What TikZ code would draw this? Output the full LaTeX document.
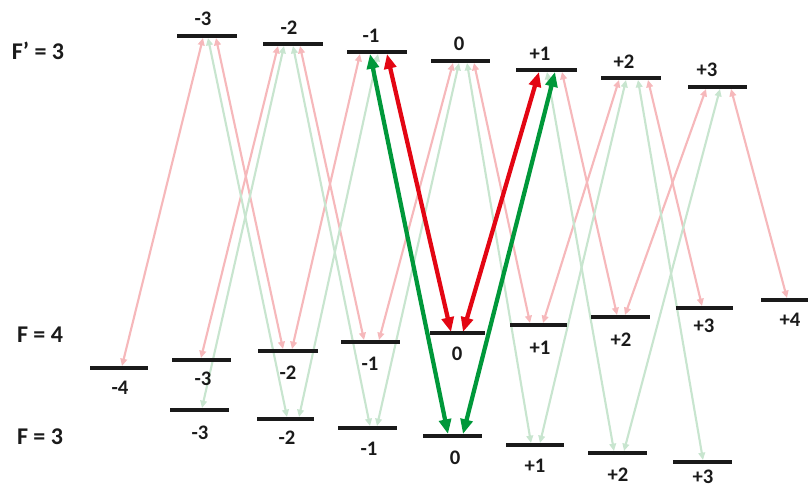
\documentclass[tikz,border=0pt]{standalone}
\usepackage{fontspec}
\setmainfont{Carlito}
\usetikzlibrary{arrows.meta}
\definecolor{redS}{RGB}{227,6,19}
\definecolor{greenS}{RGB}{0,152,58}
\definecolor{redF}{RGB}{246,184,187}
\definecolor{greenF}{RGB}{200,229,207}
\definecolor{ink}{RGB}{26,26,26}
\begin{document}
\begin{tikzpicture}[x=0.75pt,y=-0.75pt,
  bar/.style={draw=ink,line width=2.7pt},
  lvl/.style={font=\bfseries\fontsize{15.5}{18}\selectfont,text=ink,inner sep=0pt},
  flab/.style={font=\bfseries\fontsize{18}{21}\selectfont,text=ink,inner sep=0pt},
  thin/.style={line width=1.6pt,{Triangle[length=5.5pt,width=5pt]}-{Triangle[length=5.5pt,width=5pt]}},
  thick/.style={line width=3.2pt,{Triangle[length=11pt,width=9pt]}-{Triangle[length=11pt,width=9pt]}},
  faintR/.style={thin,draw=redF,fill=redF},
  faintG/.style={thin,draw=greenF,fill=greenF},
  boldR/.style={thick,draw=redS,fill=redS},
  boldG/.style={thick,draw=greenS,fill=greenS}]
\useasboundingbox (0,0) rectangle (808,488);

% faint red transitions F=4 <-> F'=3
\foreach \n/\ua/\ub/\la/\lb in {1/203/38/122/366, 2/216/38/283/349, 3/278/46/201/358,
  4/300/46/364/340, 5/360/54/292/349, 6/453/63/379/340, 7/474/63/530/323,
  8/562/72/617/315, 9/619/80/543/323, 10/648/80/702/306, 11/706/89/625/315,
  12/731/89/787/298}{
  \coordinate (r\n u) at (\ua,\ub);
  \coordinate (r\n l) at (\la,\lb);
  \draw[faintR] (r\n u) -- (r\n l);
}
% faint green transitions F=3 <-> F'=3
\foreach \n/\ua/\ub/\la/\lb in {1/208/38/287/417, 2/284/46/202/408, 3/293/46/370/426,
  4/378/54/299/417, 5/459/63/377/426, 6/467/63/531/443, 7/547/72/614/451,
  8/626/80/540/443, 9/638/80/703/460, 10/720/89/624/451}{
  \coordinate (g\n u) at (\ua,\ub);
  \coordinate (g\n l) at (\la,\lb);
  \draw[faintG] (g\n u) -- (g\n l);
}
% bold transitions
\coordinate (bg1u) at (370,54);  \coordinate (bg1l) at (448,434);
\coordinate (bg2u) at (555,72);  \coordinate (bg2l) at (463,434);
\coordinate (br1u) at (387,54);  \coordinate (br1l) at (451,332);
\coordinate (br2u) at (539,72);  \coordinate (br2l) at (463,332);
\draw[boldG] (bg1u) -- (bg1l);
\draw[boldG] (bg2u) -- (bg2l);
\draw[boldR] (br1u) -- (br1l);
\draw[boldR] (br2u) -- (br2l);

% levels F'=3
\foreach \a/\b/\y in {177/237/36, 263/323/44, 347/407/52, 431/490/61, 516/577/70, 601/661/78, 688/747/87}
  \draw[bar] (\a,\y) -- (\b,\y);
% levels F=4
\foreach \a/\b/\y in {90/148/368, 172/231/360, 258/318/351, 341/400/342, 430/485/333, 510/567/325, 591/650/317, 676/733/308, 761/808/300}
  \draw[bar] (\a,\y) -- (\b,\y);
% levels F=3
\foreach \a/\b/\y in {170/229/410, 257/314/419, 338/397/428, 423/482/436, 506/564/445, 588/647/453, 673/732/462}
  \draw[bar] (\a,\y) -- (\b,\y);

% labels
\node[flab] (Fp) at (38,50.5) {F’ = 3};
\node[flab] (F4) at (40,335) {F = 4};
\node[flab] (F3) at (40,437) {F = 3};

\node[lvl] (u1) at (203,19) {-3};
\node[lvl] (u2) at (289,27.5) {-2};
\node[lvl] (u3) at (371,36) {-1};
\node[lvl] (u4) at (459,43.5) {0};
\node[lvl] (u5) at (540,53.5) {+1};
\node[lvl] (u6) at (624,62) {+2};
\node[lvl] (u7) at (707,70) {+3};

\node[lvl] (a1) at (120,387.5) {-4};
\node[lvl] (a2) at (203,379) {-3};
\node[lvl] (a3) at (288,372.5) {-2};
\node[lvl] (a4) at (370,364) {-1};
\node[lvl] (a5) at (457,354) {0};
\node[lvl] (a6) at (540,348) {+1};
\node[lvl] (a7) at (621,339.5) {+2};
\node[lvl] (a8) at (704,326) {+3};
\node[lvl] (a9) at (790,319.5) {+4};

\node[lvl] (b1) at (200,432.5) {-3};
\node[lvl] (b2) at (287,438) {-2};
\node[lvl] (b3) at (369,449) {-1};
\node[lvl] (b4) at (455,458) {0};
\node[lvl] (b5) at (535,465.5) {+1};
\node[lvl] (b6) at (618,475) {+2};
\node[lvl] (b7) at (703,477) {+3};
\end{tikzpicture}
\end{document}
